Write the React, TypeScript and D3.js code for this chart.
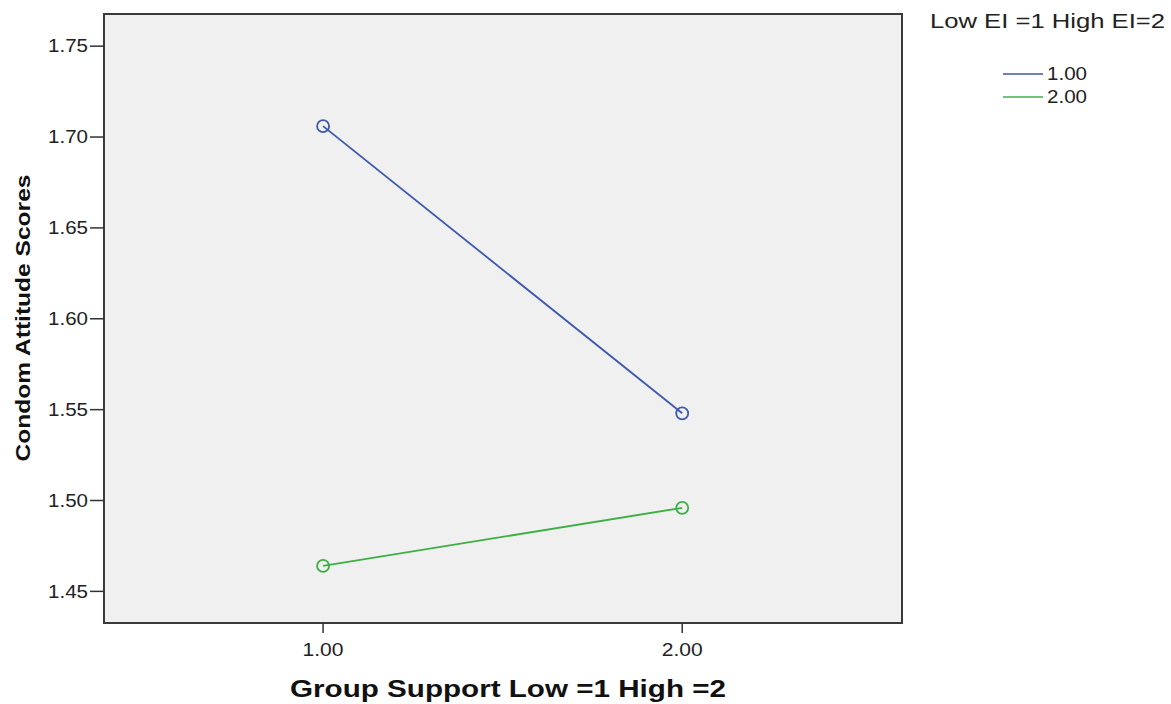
import React from "react";
import * as d3 from "d3";

const groups = [1, 2];
const xTicks = [1, 2];
const xTickLabels = ["1.00", "2.00"];
const yTicks = [1.45, 1.5, 1.55, 1.6, 1.65, 1.7, 1.75];
const lowEI = [1.706, 1.548];
const highEI = [1.464, 1.496];
const seriesNames = ["1.00", "2.00"];
const seriesColors = ["#3E58AC", "#3CB043"];
const xTitle = "Group Support Low =1 High =2";
const yTitle = "Condom Attitude Scores";
const legendTitle = "Low EI =1 High EI=2";

const W = 1171;
const H = 704;
const plot = { left: 104, right: 902, top: 14, bottom: 623 };
const FONT = "'Liberation Sans', Arial, sans-serif";

export default function App() {
  const x = d3.scaleLinear().domain([0.39, 2.612]).range([plot.left, plot.right]);
  const y = d3.scaleLinear().domain([1.4326, 1.7677]).range([plot.bottom, plot.top]);
  const line = d3
    .line<number>()
    .x((_, i) => x(groups[i]))
    .y((d) => y(d));
  const series = [lowEI, highEI];

  return (
    <svg
      width={W}
      height={H}
      style={{ position: "absolute", left: 0, top: 0, background: "#fff" }}
      fontFamily={FONT}
    >
      <rect
        x={plot.left}
        y={plot.top}
        width={plot.right - plot.left}
        height={plot.bottom - plot.top}
        fill="#F0F0F0"
        stroke="#3a3a3a"
        strokeWidth={2}
      />
      {yTicks.map((t) => (
        <g key={t}>
          <line x1={plot.left - 14} x2={plot.left} y1={y(t)} y2={y(t)} stroke="#333" strokeWidth={1.5} />
          <text
            x={88}
            y={y(t)}
            dy="0.35em"
            textAnchor="end"
            fontSize={18}
            fill="#222"
            textLength={40}
            lengthAdjust="spacingAndGlyphs"
          >
            {t.toFixed(2)}
          </text>
        </g>
      ))}
      {xTicks.map((t, i) => (
        <g key={t}>
          <line x1={x(t)} x2={x(t)} y1={plot.bottom} y2={plot.bottom + 10} stroke="#333" strokeWidth={1.5} />
          <text
            x={x(t)}
            y={656}
            textAnchor="middle"
            fontSize={18}
            fill="#222"
            textLength={41}
            lengthAdjust="spacingAndGlyphs"
          >
            {xTickLabels[i]}
          </text>
        </g>
      ))}
      {series.map((s, si) => (
        <g key={si}>
          <path d={line(s) || ""} fill="none" stroke={seriesColors[si]} strokeWidth={1.8} />
          {s.map((v, i) => (
            <circle
              key={i}
              cx={x(groups[i])}
              cy={y(v)}
              r={6}
              fill="none"
              stroke={seriesColors[si]}
              strokeWidth={1.8}
            />
          ))}
        </g>
      ))}
      <text
        x={508}
        y={697}
        textAnchor="middle"
        fontSize={23}
        fontWeight="bold"
        fill="#111"
        textLength={436}
        lengthAdjust="spacingAndGlyphs"
      >
        {xTitle}
      </text>
      <text
        transform={`translate(22, 318) rotate(-90)`}
        textAnchor="middle"
        dominantBaseline="central"
        fontSize={21}
        fontWeight="bold"
        fill="#111"
        textLength={287}
        lengthAdjust="spacingAndGlyphs"
      >
        {yTitle}
      </text>
      <text
        x={930}
        y={28}
        fontSize={20}
        fill="#222"
        textLength={235}
        lengthAdjust="spacingAndGlyphs"
      >
        {legendTitle}
      </text>
      {seriesNames.map((n, i) => (
        <g key={n}>
          <line x1={1003} x2={1043} y1={74 + i * 23} y2={74 + i * 23} stroke={seriesColors[i]} strokeWidth={1.6} />
          <text
            x={1047}
            y={74 + i * 23}
            dy="0.35em"
            fontSize={18}
            fill="#222"
            textLength={40}
            lengthAdjust="spacingAndGlyphs"
          >
            {n}
          </text>
        </g>
      ))}
    </svg>
  );
}
